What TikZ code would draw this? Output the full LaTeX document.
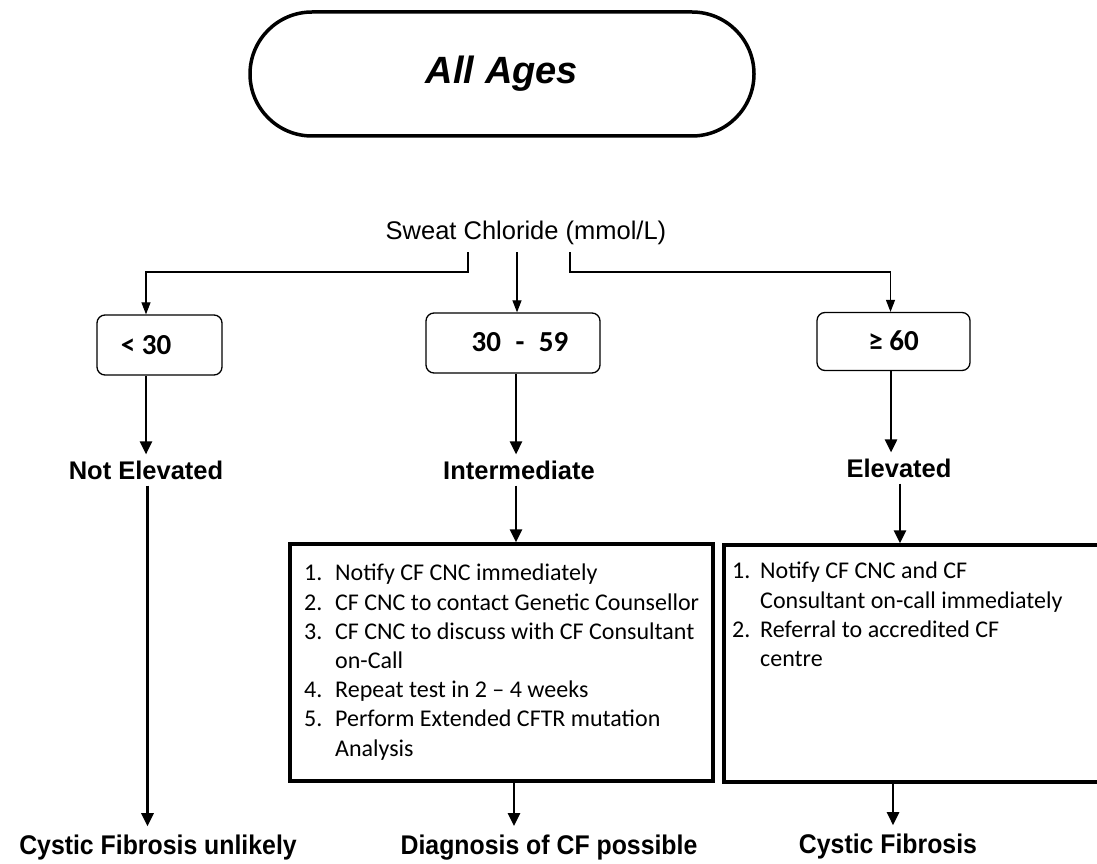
\documentclass[tikz,border=0pt]{standalone}
\usepackage{fontspec}
\setmainfont{Liberation Sans}
\newfontfamily\calfont{Carlito}
\newfontfamily\narrowbold[FakeStretch=0.92]{Liberation Sans Bold}
\usetikzlibrary{arrows.meta,calc}
\begin{document}
\begin{tikzpicture}[x=1pt,y=-1pt,
  pill/.style={draw, line width=3.5pt, rounded corners=62pt, minimum width=504pt, minimum height=124pt},
  rangebox/.style={draw, line width=1.3pt, rounded corners=8pt, inner sep=0pt, font=\calfont\bfseries\fontsize{29}{34}\selectfont},
  level/.style={inner sep=6pt, font=\bfseries\fontsize{25.5}{30}\selectfont},
  outcome/.style={inner sep=9pt, font=\narrowbold\fontsize{27}{32}\selectfont},
  actbox/.style={draw, line width=3.5pt, inner sep=0pt},
  acttext/.style={inner sep=0pt, align=left, anchor=north west, font=\calfont\fontsize{24}{29.2}\selectfont},
  thinarrow/.style={line width=1.2pt, -{Triangle[length=12pt,width=9pt]}},
  thickarrow/.style={line width=2.6pt, -{Triangle[length=13pt,width=12pt]}},
]
\useasboundingbox (0,0) rectangle (1097,864);
\fill[white] (0,0) rectangle (1097,864);
\clip (0,0) rectangle (1097,864);

\node[pill, font=\bfseries\itshape\fontsize{38}{44}\selectfont] (ages) at (502,74) {All Ages};
\node[inner sep=0pt, font=\fontsize{25.5}{30}\selectfont] (sc) at (526,233) {Sweat Chloride (mmol/L)};

\node[rangebox, minimum width=125pt, minimum height=60pt] (lo) at (159.5,345) {< 30\hspace{27pt}\null};
\node[rangebox, minimum width=174pt, minimum height=60pt] (mid) at (513,343) {\raisebox{3pt}{\hspace*{14pt}30\hspace{8pt} - \hspace{8pt}59}};
\node[rangebox, minimum width=153pt, minimum height=58pt] (hi) at (893.5,341.5) {\raisebox{2pt}{≥ 60}};

\node[level] (ne) at (146,470) {Not Elevated};
\node[level] (im) at (519,470) {Intermediate};
\node[level] (el) at (899,468) {Elevated};

\node[actbox, minimum width=423pt, minimum height=237pt] (b1) at (501.5,662.5) {};
\node[actbox, minimum width=386pt, minimum height=237pt] (b2) at (917,663.5) {};

\node[acttext] (t1) at (304,564) {%
\makebox[31pt][l]{1.}Notify CF CNC immediately\\
\makebox[31pt][l]{2.}CF CNC to contact Genetic Counsellor\\
\makebox[31pt][l]{3.}CF CNC to discuss with CF Consultant\\
\hspace*{31pt}on-Call\\
\makebox[31pt][l]{4.}Repeat test in 2 – 4 weeks\\
\makebox[31pt][l]{5.}Perform Extended CFTR mutation\\
\hspace*{31pt}Analysis};

\node[acttext] (t2) at (732,562) {%
\makebox[28pt][l]{1.}Notify CF CNC and CF\\
\hspace*{28pt}Consultant on-call immediately\\
\makebox[28pt][l]{2.}Referral to accredited CF\\
\hspace*{28pt}centre};

\node[outcome] (cfu) at (158,848) {Cystic Fibrosis unlikely};
\node[outcome] (dcf) at (549,848) {Diagnosis of CF possible};
\node[outcome] (cf) at (888,847) {Cystic Fibrosis};

\coordinate (scL) at (468,252);
\coordinate (scM) at (517,252);
\coordinate (scR) at (570,252);

\draw[thinarrow] (scL) -- (468,272) -| ([xshift=-13.5pt]lo.north);
\draw[thinarrow] (scM) -- (scM |- mid.north);
\draw[thinarrow] (scR) -- (570,272) -| ([xshift=-3pt]hi.north);

\draw[thickarrow] ([xshift=-13.5pt]lo.south) -- ([xshift=-13.5pt]lo.south |- ne.north);
\draw[thickarrow] ([xshift=1.5pt]ne.south) -- ([xshift=1.5pt]ne.south |- cfu.north);
\draw[thickarrow] ([xshift=3pt]mid.south) -- ([xshift=3pt]mid.south |- im.north);
\draw[thickarrow] ([xshift=-3pt]im.south) -- ([xshift=-3pt]im.south |- b1.north);
\draw[thickarrow] ([xshift=12.5pt]b1.south) -- ([xshift=12.5pt]b1.south |- dcf.north);
\draw[thickarrow] ([xshift=-2.5pt]hi.south) -- ([xshift=-2.5pt]hi.south |- el.north);
\draw[thickarrow] ([xshift=1pt]el.south) -- ([xshift=1pt]el.south |- b2.north);
\draw[thickarrow] ([xshift=-24pt]b2.south) -- ([xshift=-24pt]b2.south |- cf.north);
\end{tikzpicture}
\end{document}
